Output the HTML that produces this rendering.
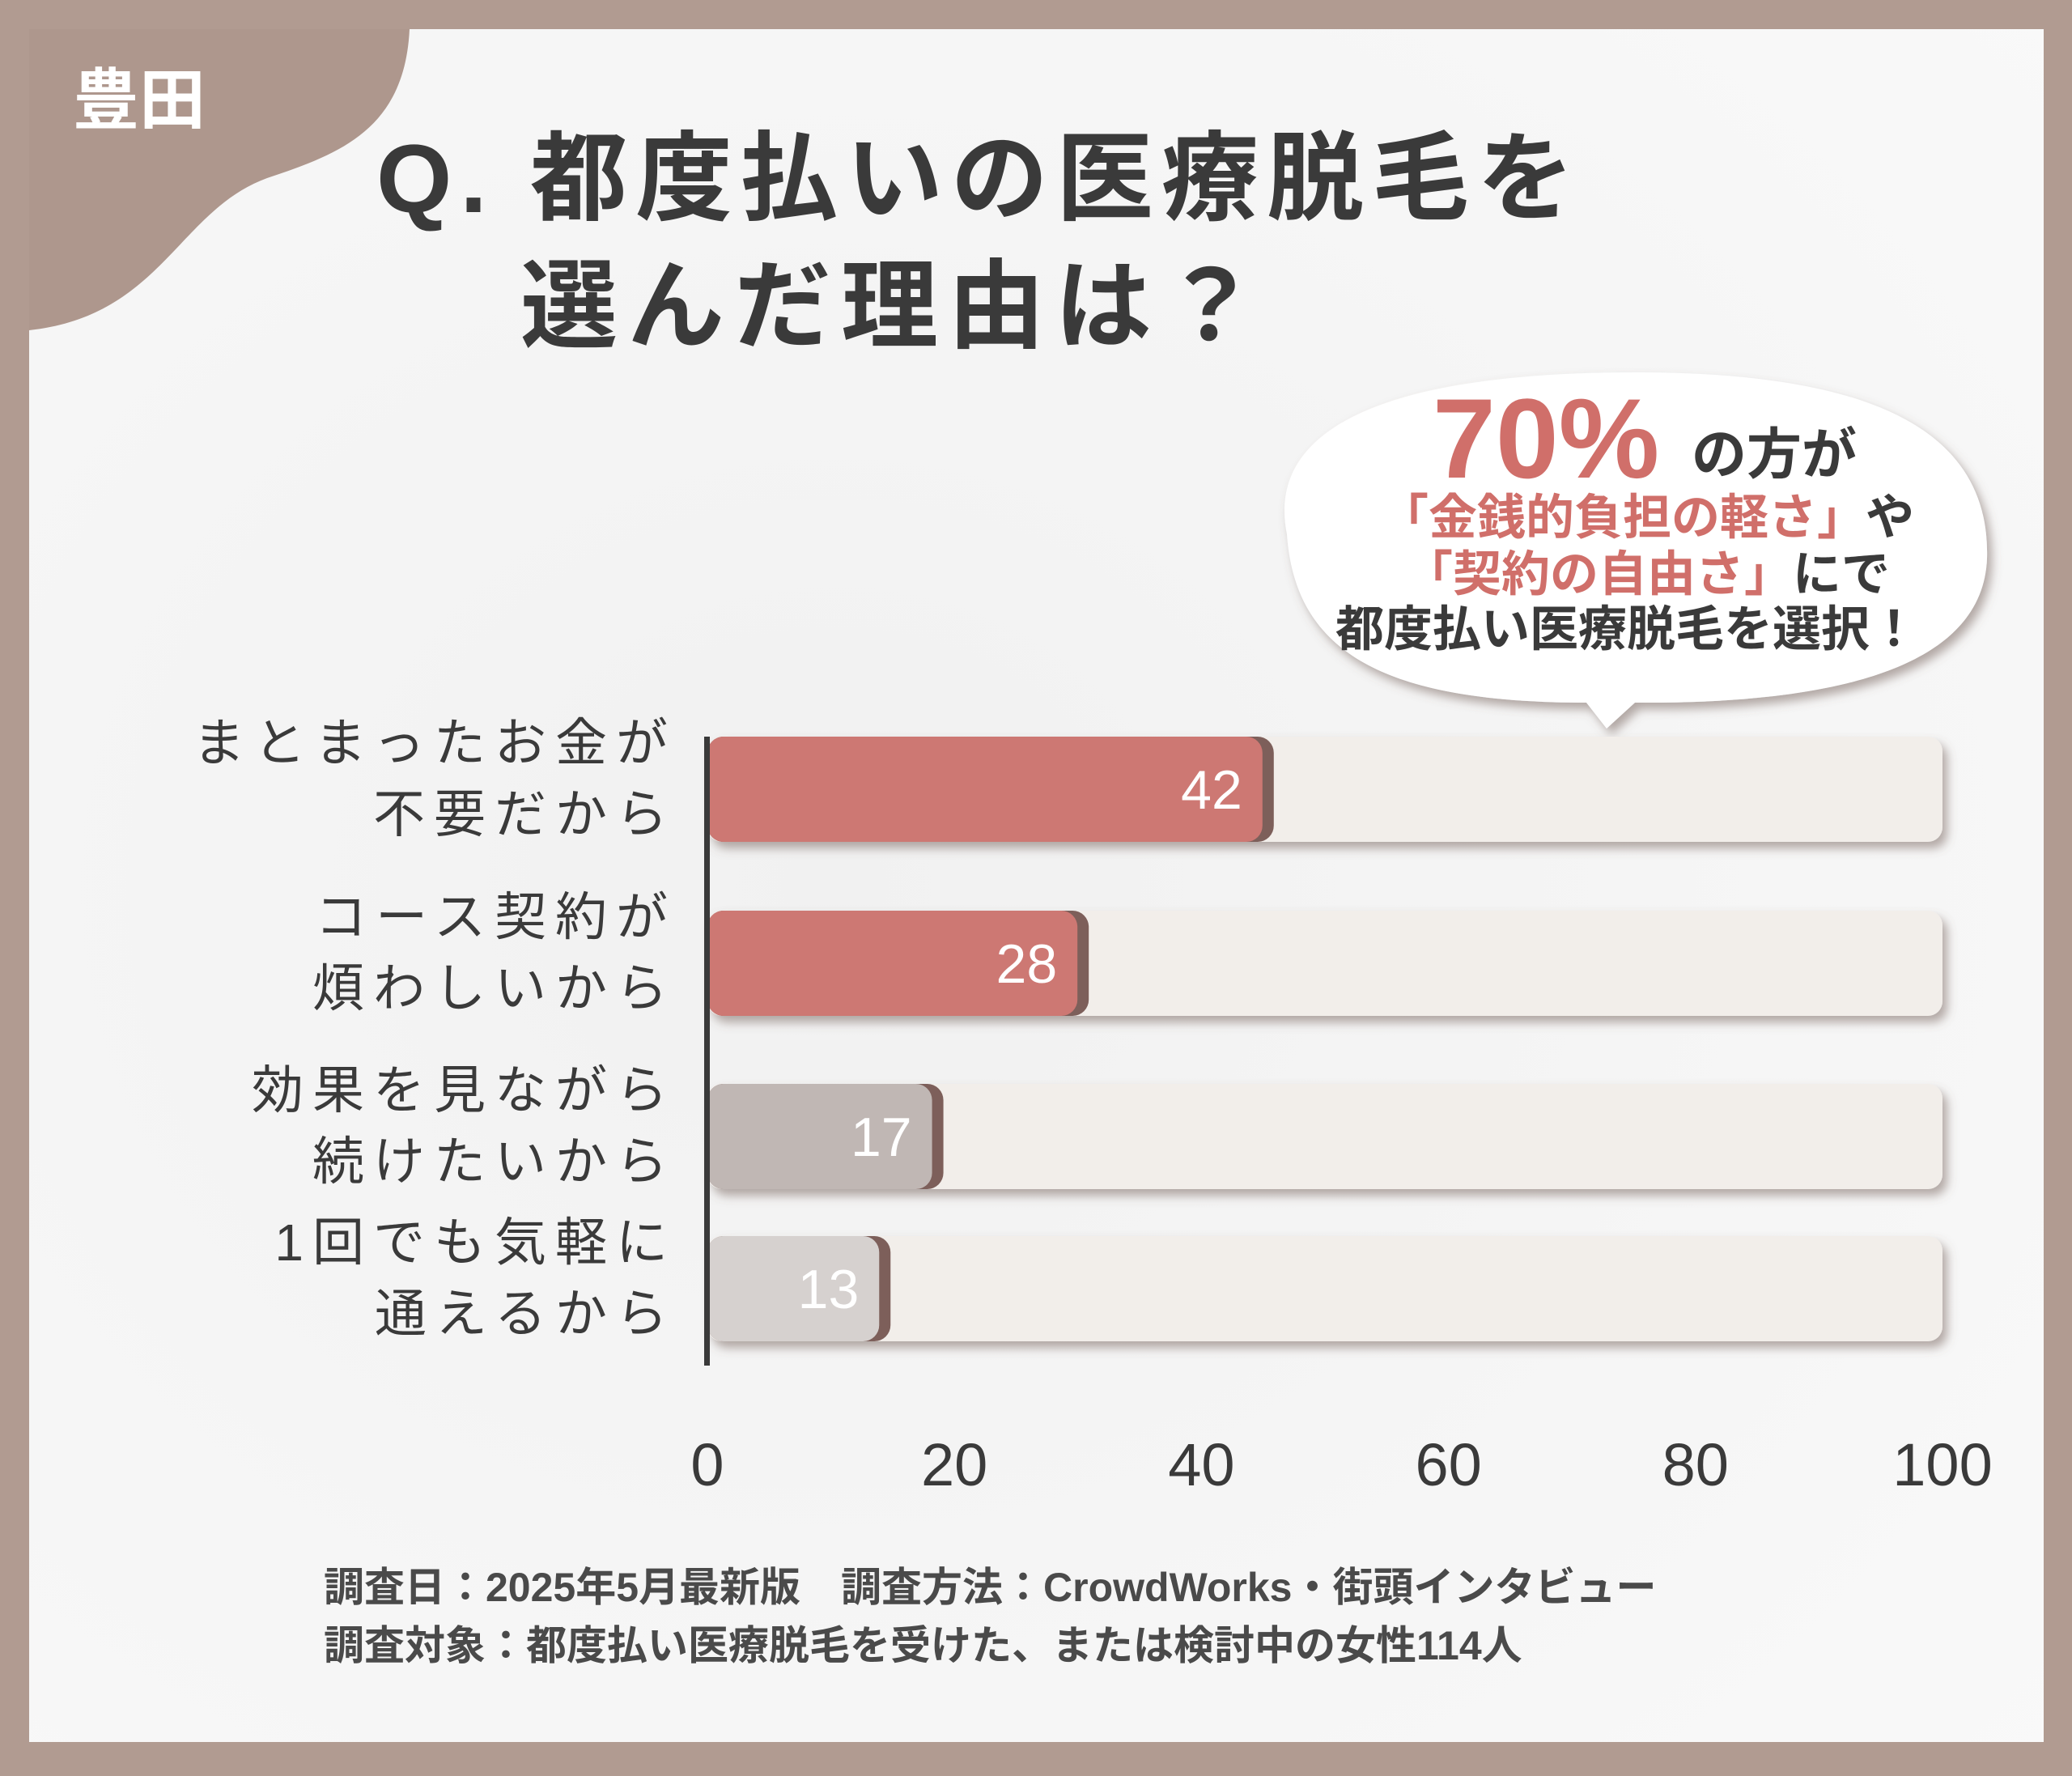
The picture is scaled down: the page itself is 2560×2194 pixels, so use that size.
<!DOCTYPE html>
<html><head><meta charset="utf-8"><style>
html,body{margin:0;padding:0;}
body{width:2560px;height:2189px;overflow:hidden;background:#b19b91;font-family:"Liberation Sans","Noto Sans CJK JP",sans-serif;}
svg text{font-family:"Liberation Sans","Noto Sans CJK JP",sans-serif;}
</style></head><body>
<svg width="2560" height="2189" viewBox="0 0 2560 2189">
<defs>
<radialGradient id="bg" cx="0.4" cy="0.5" r="0.8"><stop offset="0" stop-color="#f1f1f1"/><stop offset="1" stop-color="#f9f9f9"/></radialGradient>
<filter id="sh" x="-10%" y="-10%" width="130%" height="140%"><feDropShadow dx="6" dy="8" stdDeviation="6" flood-color="#6e5a52" flood-opacity="0.5"/></filter>
</defs>
<rect x="36" y="36" width="2489" height="2116" fill="url(#bg)"/>
<path d="M36,36 L506,36 C500,160 420,190 330,220 C220,260 200,390 36,408 Z" fill="#ae978d"/>
<text x="90" y="152" font-size="82" font-weight="bold" fill="#fff">豊田</text>
<text x="465" y="262" font-size="120" font-weight="bold" fill="#3a3a3a" letter-spacing="10">Q. 都度払いの医療脱毛を</text>
<text x="643" y="420" font-size="120" font-weight="bold" fill="#3a3a3a" letter-spacing="12">選んだ理由は？</text>
<g filter="url(#sh)">
<path d="M1590,660 C1560,510 1760,460 2020,460 C2290,460 2460,520 2455,690 C2450,820 2280,870 2020,868 L1985,900 L1960,868 C1700,868 1600,800 1590,660 Z" fill="#fff"/>
<circle cx="1880" cy="955" r="22" fill="#fff"/><circle cx="1828" cy="978" r="10" fill="#fff"/>
</g>
<text x="1770" y="590" font-size="140" font-weight="bold" fill="#d06f6a">70%</text>
<text x="2090" y="585" font-size="68" font-weight="bold" fill="#3a3a3a">の方が</text>
<text x="1705" y="660" font-size="60" font-weight="bold" fill="#d06f6a">「金銭的負担の軽さ」<tspan fill="#3a3a3a">や</tspan></text>
<text x="1735" y="730" font-size="60" font-weight="bold" fill="#d06f6a">「契約の自由さ」<tspan fill="#3a3a3a">にで</tspan></text>
<text x="1650" y="798" font-size="60" font-weight="bold" fill="#3a3a3a">都度払い医療脱毛を選択！</text>
<g id="chart"></g>
<text x="400" y="1978" font-size="50" font-weight="bold" fill="#4a4a4a">調査日：2025年5月最新版　調査方法：CrowdWorks・街頭インタビュー</text>
<text x="400" y="2050" font-size="50" font-weight="bold" fill="#4a4a4a">調査対象：都度払い医療脱毛を受けた、または検討中の女性114人</text>
</svg>
<script>
const categoriesLine1=["まとまったお金が","コース契約が","効果を見ながら","1回でも気軽に"];
const categoriesLine2=["不要だから","煩わしいから","続けたいから","通えるから"];
const values=[42,28,17,13];
const ticks=[0,20,40,60,80,100];
const barColors=["#cd7873","#cd7873","#c0b7b4","#d6d1cf"];
const NS="http://www.w3.org/2000/svg";
const g=document.getElementById('chart');
const x0=874,x1=2400;
function xs(v){return x0+(x1-x0)*v/100;}
const rowTop=[910,1125,1339,1527],barH=130;
function mk(t,a){const e=document.createElementNS(NS,t);for(const k in a)e.setAttribute(k,a[k]);g.appendChild(e);return e;}
values.forEach((v,i)=>{
 const y=rowTop[i];
 const tr=mk('rect',{x:x0,y:y,width:x1-x0,height:barH,rx:18,fill:'#f2eeea',filter:'url(#sh)'});
 
 
 const w=Math.max((xs(v)-x0)*1.07,60);
 const sh=mk('rect',{x:x0,y:y,width:w+14,height:barH,rx:20,fill:'#7d5f5a'});
 
 
 const b=mk('rect',{x:x0,y:y,width:w,height:barH,rx:20,fill:barColors[i]});
 
 
 const vl=mk('text',{x:x0+w-25,y:y+barH/2+24,'font-size':68,'text-anchor':'end',fill:'#fff'});
 vl.textContent=v;
 
 
 const l1=mk('text',{x:836,y:y+30,'font-size':64,'text-anchor':'end',fill:'#3a3a3a','letter-spacing':11});
 l1.textContent=categoriesLine1[i];
 
 
 const l2=mk('text',{x:836,y:y+118,'font-size':64,'text-anchor':'end',fill:'#3a3a3a','letter-spacing':11});
 l2.textContent=categoriesLine2[i];
 
 
});
const ax=mk('rect',{x:x0-4,y:910,width:7,height:777,fill:'#3a3a3a'});


ticks.forEach(t=>{
 const tl=mk('text',{x:xs(t),y:1835,'font-size':74,'text-anchor':'middle',fill:'#3a3a3a'});
 tl.textContent=t;
 
 
});
</script>
</body></html>
